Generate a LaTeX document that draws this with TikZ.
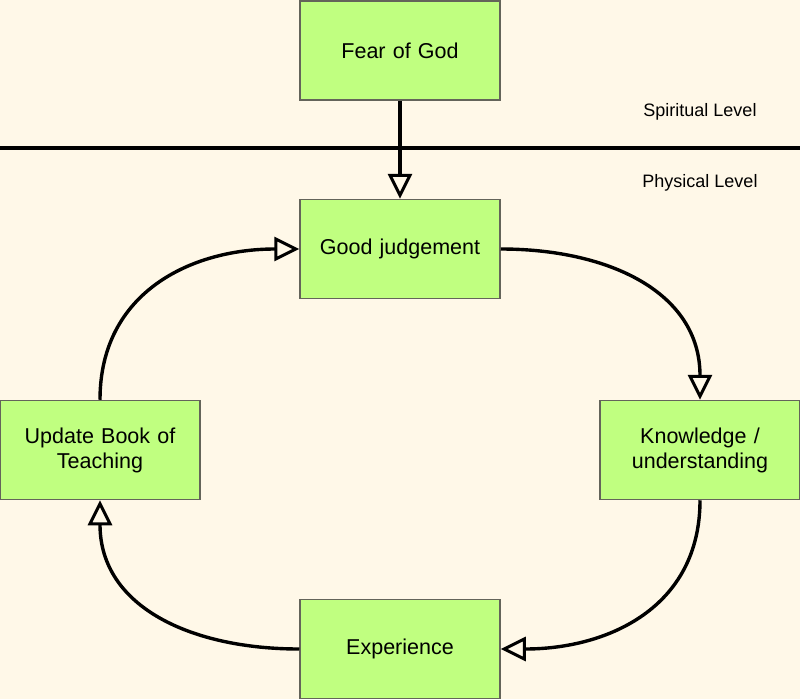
\documentclass[tikz,border=0pt]{standalone}
\usepackage{fontspec}
\setmainfont{Liberation Sans}
\usetikzlibrary{arrows.meta}
\definecolor{bg}{RGB}{255,248,232}
\definecolor{boxfill}{RGB}{192,255,128}
\definecolor{boxline}{RGB}{100,100,90}
\tikzset{
  stepbox/.style={draw=boxline, line width=1.5pt, fill=boxfill, minimum width=200pt, minimum height=99pt, inner sep=2pt, align=center, font=\fontsize{21.5}{25}\selectfont, text width=194pt},
  flow/.style={line width=3.4pt, -{Triangle[open, length=25pt, width=24pt, line width=3pt]}},
  lvl/.style={font=\fontsize{18}{21}\selectfont}
}
\begin{document}
\begin{tikzpicture}[x=1pt,y=-1pt]
\fill[bg] (0,0) rectangle (800,699);
\useasboundingbox (0,0) rectangle (800,699);
\node[stepbox] (fear) at (400,50.5) {Fear of God};
\node[stepbox] (good) at (400,249) {Good judgement};
\node[stepbox] (know) at (700,450) {Knowledge /\\understanding};
\node[stepbox] (upd) at (100,450) {Update Book of\\Teaching};
\node[stepbox] (exp) at (400,649) {Experience};
\coordinate (ll) at (0,148);
\coordinate (lr) at (800,148);
\draw[line width=3.4pt] (ll) -- (lr);
\node[lvl] (spir) at (700,112) {Spiritual Level};
\node[lvl] (phys) at (700,183) {Physical Level};
\draw[flow] (fear.south) -- (good.north);
\draw[flow] (good.east) to[out=0,in=90,looseness=1.1] (know.north);
\draw[flow] (know.south) to[out=-90,in=0,looseness=1.1] (exp.east);
\draw[flow] (exp.west) to[out=180,in=-90,looseness=1.1] (upd.south);
\draw[flow] (upd.north) to[out=90,in=180,looseness=1.1] (good.west);
\end{tikzpicture}
\end{document}
